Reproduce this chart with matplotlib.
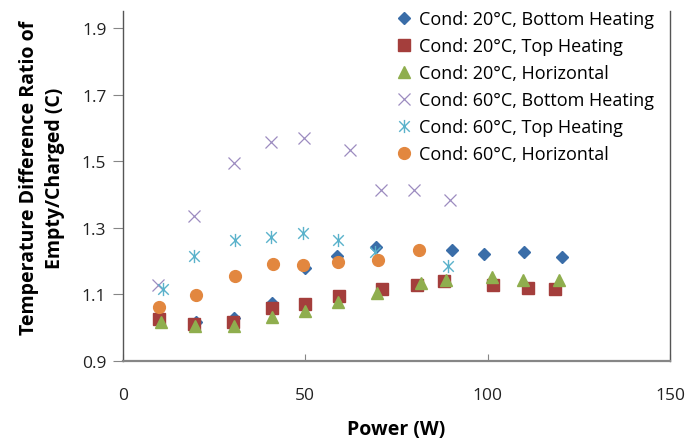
"""
Temperature difference ratio vs power, six conditions
"""
import numpy as np
import matplotlib
matplotlib.use("Agg")
import matplotlib.pyplot as plt
from matplotlib.path import Path

plt.rcParams['font.family'] = ['Open Sans', 'DejaVu Sans']

# --- data ---
labels = [
    "Cond: 20°C, Bottom Heating",
    "Cond: 20°C, Top Heating",
    "Cond: 20°C, Horizontal",
    "Cond: 60°C, Bottom Heating",
    "Cond: 60°C, Top Heating",
    "Cond: 60°C, Horizontal",
]

p_20_bottom = [10, 20, 30.4, 40.9, 49.9, 58.7, 69.4, 90.2, 99, 110, 120.4]
c_20_bottom = [1.03, 1.017, 1.029, 1.074, 1.179, 1.215, 1.242, 1.233, 1.221, 1.227, 1.212]

p_20_top = [9.9, 19.5, 30.2, 40.8, 49.9, 59.2, 71, 80.6, 88, 101.5, 111, 118.5]
c_20_top = [1.026, 1.011, 1.017, 1.059, 1.071, 1.095, 1.116, 1.128, 1.140, 1.128, 1.119, 1.116]

p_20_horiz = [10.4, 19.7, 30.4, 40.9, 49.9, 59, 69.6, 81.7, 88.6, 101.2, 109.7, 119.5]
c_20_horiz = [1.017, 1.005, 1.005, 1.032, 1.05, 1.077, 1.104, 1.134, 1.143, 1.152, 1.143, 1.143]

p_60_bottom = [9.6, 19.5, 30.4, 40.6, 49.6, 62.2, 70.7, 79.8, 89.6]
c_60_bottom = [1.128, 1.335, 1.494, 1.558, 1.57, 1.534, 1.414, 1.414, 1.384]

p_60_top = [10.9, 19.5, 30.6, 40.6, 49.4, 59, 69.1, 89]
c_60_top = [1.116, 1.215, 1.263, 1.272, 1.284, 1.263, 1.227, 1.185]

p_60_horiz = [9.8, 20, 30.7, 41.1, 49.4, 59, 69.9, 81.2]
c_60_horiz = [1.062, 1.098, 1.155, 1.191, 1.188, 1.197, 1.203, 1.233]

x_ticks = [0, 50, 100, 150]
y_ticks = [0.9, 1.1, 1.3, 1.5, 1.7, 1.9]

# excel-style asterisk: X plus a vertical bar
star = Path(
    [(-1, -1), (1, 1), (-1, 1), (1, -1), (0, -1.25), (0, 1.25)],
    [Path.MOVETO, Path.LINETO, Path.MOVETO, Path.LINETO, Path.MOVETO, Path.LINETO],
)

fig = plt.figure(figsize=(6.85, 4.39), dpi=100)
ax = fig.add_axes([123 / 685, 1 - 362 / 439, (670 - 123) / 685, (362 - 12) / 439])

ax.plot(p_20_bottom, c_20_bottom, 'D', color='#3A6DA8', markersize=6.5, label=labels[0])
ax.plot(p_20_top, c_20_top, 's', color='#A43E3C', markersize=8, label=labels[1])
ax.plot(p_20_horiz, c_20_horiz, '^', color='#8FAE4E', markersize=8.5, label=labels[2])
ax.plot(p_60_bottom, c_60_bottom, 'x', color='#9C8CC0', markersize=8.5,
        markeredgewidth=0.9, label=labels[3])
ax.plot(p_60_top, c_60_top, marker=star, linestyle='none', color='#5AB2CB',
        markersize=9.5, markeredgewidth=1.0, label=labels[4])
ax.plot(p_60_horiz, c_60_horiz, 'o', color='#E2873F', markersize=8.5, label=labels[5])

ax.set_xlim(0, 150)
ax.set_ylim(0.9, 1.952)
ax.set_xticks(x_ticks)
ax.set_yticks(y_ticks)
ax.set_yticklabels([f"{v:.1f}" for v in y_ticks])

# axes look
for side in ['left', 'bottom', 'right']:
    ax.spines[side].set_color('#868686')
    ax.spines[side].set_linewidth(1.0)
ax.spines['left'].set_color('#555555')
ax.spines['right'].set_color('#555555')
ax.spines['bottom'].set_linewidth(1.6)
ax.spines['top'].set_visible(False)
ax.tick_params(axis='x', direction='in', length=5, color='#868686',
               labelsize=12.5, pad=19, labelcolor='#222222')
ax.tick_params(axis='y', direction='out', length=7, color='#868686',
               labelsize=12.5, pad=5, labelcolor='#222222')

ax.set_xlabel("Power (W)", fontsize=14, fontweight='bold', labelpad=11)
ax.set_ylabel("Temperature Difference Ratio of\nEmpty/Charged (C)",
              fontsize=14, fontweight='bold', labelpad=12, linespacing=1.4)
ax.yaxis.label.set_y(0.526)

ax.legend(loc='upper left', bbox_to_anchor=(397 / 685, 1 - 11 / 439),
          bbox_transform=fig.transFigure, frameon=False, fontsize=13,
          handlelength=0.8, handletextpad=0.4, labelspacing=0.5,
          borderaxespad=0, borderpad=0)

fig.savefig("out.png", dpi=100)
